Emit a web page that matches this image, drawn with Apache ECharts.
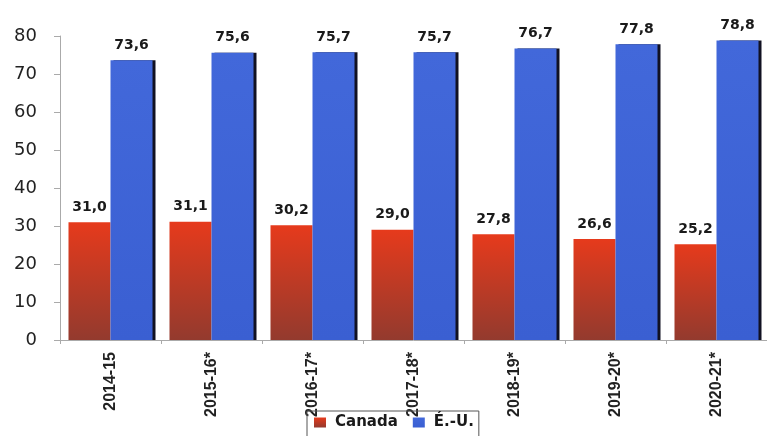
<!DOCTYPE html>
<html>
<head>
<meta charset="utf-8">
<script src="https://cdn.jsdelivr.net/npm/echarts@6/dist/echarts.min.js"></script>
<style>
html,body{margin:0;padding:0;background:#fff;}
#c{width:767px;height:436px;}
</style>
</head>
<body>
<div id="c"></div>
<script>
const categories = ['2014-15','2015-16*','2016-17*','2017-18*','2018-19*','2019-20*','2020-21*'];
const canada = [31.0, 31.1, 30.2, 29.0, 27.8, 26.6, 25.2];
const usa = [73.6, 75.6, 75.7, 75.7, 76.7, 77.8, 78.8];
const yTicks = [0, 10, 20, 30, 40, 50, 60, 70, 80];

const chart = echarts.init(document.getElementById('c'), null, {renderer: 'canvas'});
const fmt = p => p.value.toFixed(1).replace('.', ',');
const labelStyle = {
  show: true, position: 'top', distance: 8,
  formatter: fmt,
  fontFamily: 'DejaVu Sans, sans-serif',
  fontWeight: 'bold', fontSize: 14, color: '#1a1a1a'
};
chart.setOption({
  backgroundColor: '#fff',
  animation: false,
  grid: {left: 60, top: 36, width: 714, bottom: 96, containLabel: false},
  legend: {
    data: ['Canada', 'É.-U.'],
    left: 307, top: 411,
    padding: [4, 5, 8, 7],
    borderColor: '#555', borderWidth: 1,
    itemWidth: 12, itemHeight: 10, itemGap: 15,
    icon: 'rect',
    textStyle: {fontFamily: 'DejaVu Sans, sans-serif', fontWeight: 'bold', fontSize: 15, color: '#1a1a1a', padding: [0, 0, 0, 4]}
  },
  xAxis: {
    type: 'category',
    data: categories,
    axisLine: {lineStyle: {color: '#aaa', width: 1}},
    axisTick: {show: true, length: 4, lineStyle: {color: '#aaa'}},
    axisLabel: {
      rotate: 90, margin: 12, interval: 0,
      fontFamily: 'Liberation Sans, Arial, sans-serif',
      fontWeight: 'bold', fontSize: 16, color: '#222'
    }
  },
  yAxis: {
    type: 'value',
    min: yTicks[0], max: yTicks[yTicks.length - 1], interval: 10,
    axisLine: {show: true, lineStyle: {color: '#aaa', width: 1}},
    axisTick: {show: true, length: 6, lineStyle: {color: '#aaa'}},
    splitLine: {show: false},
    axisLabel: {
      margin: 23,
      fontFamily: 'DejaVu Sans, sans-serif',
      fontSize: 18, color: '#222'
    }
  },
  series: [
    {
      name: 'Canada', type: 'bar', data: canada,
      barWidth: 42, barGap: '0%',
      itemStyle: {
        color: new echarts.graphic.LinearGradient(0, 0, 0, 1, [
          {offset: 0, color: '#e63a1c'},
          {offset: 1, color: '#933a2e'}
        ])
      },
      label: labelStyle
    },
    {
      name: 'É.-U.', type: 'bar', data: usa,
      barWidth: 42,
      itemStyle: {
        color: new echarts.graphic.LinearGradient(0, 0, 0, 1, [
          {offset: 0, color: '#4268da'},
          {offset: 1, color: '#3a5fd2'}
        ]),
        shadowColor: '#111122', shadowOffsetX: 3, shadowOffsetY: 0, shadowBlur: 0
      },
      label: labelStyle
    }
  ]
});
</script>
</body>
</html>
